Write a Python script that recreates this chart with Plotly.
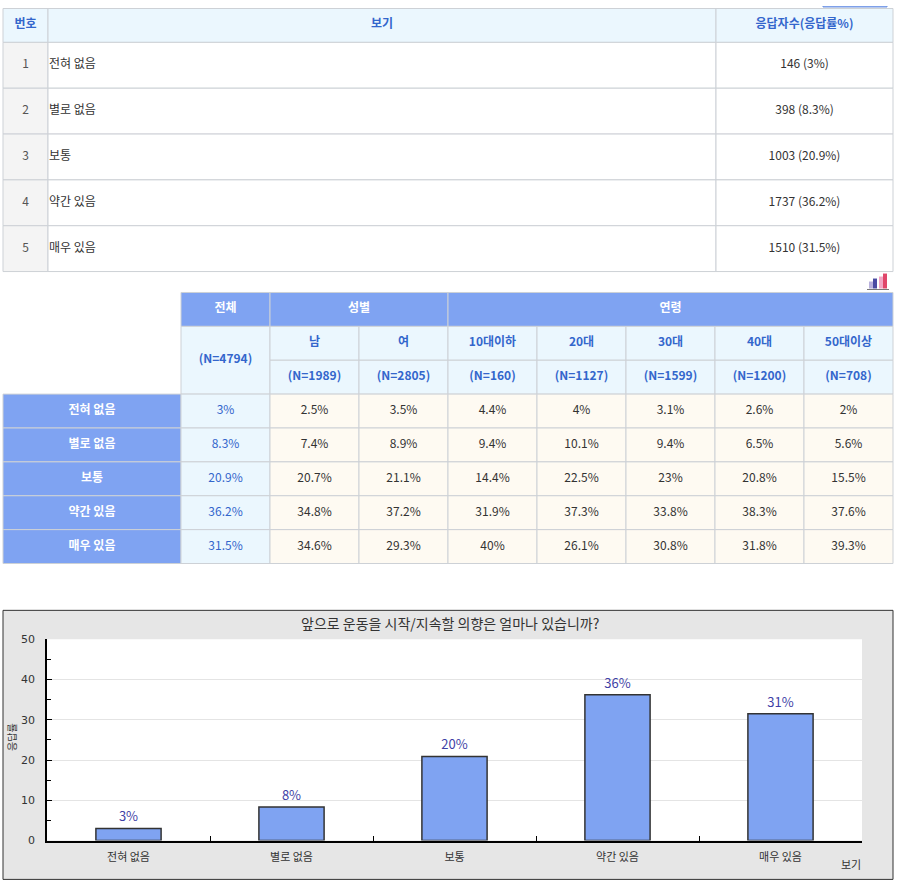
import plotly.graph_objects as go

# answer options and overall result
options = ["전혀 없음", "별로 없음", "보통", "약간 있음", "매우 있음"]
counts = [146, 398, 1003, 1737, 1510]
rates = [3, 8.3, 20.9, 36.2, 31.5]

# cross table
groups = ["전체", "성별", "연령"]
group_spans = [1, 2, 5]
subgroups = ["남", "여", "10대이하", "20대", "30대", "40대", "50대이상"]
n_sizes = [4794, 1989, 2805, 160, 1127, 1599, 1200, 708]

total = [3, 8.3, 20.9, 36.2, 31.5]
male = [2.5, 7.4, 20.7, 34.8, 34.6]
female = [3.5, 8.9, 21.1, 37.2, 29.3]
age10 = [4.4, 9.4, 14.4, 31.9, 40]
age20 = [4, 10.1, 22.5, 37.3, 26.1]
age30 = [3.1, 9.4, 23, 33.8, 30.8]
age40 = [2.6, 6.5, 20.8, 38.3, 31.8]
age50 = [2, 5.6, 15.5, 37.6, 39.3]
cross_cols = [total, male, female, age10, age20, age30, age40, age50]

chart_title = "앞으로 운동을 시작/지속할 의향은 얼마나 있습니까?"
y_title = "응답률"
x_title = "보기"

FONT = "Noto Sans CJK KR"
LINE = "#CDD1D6"
HEAD_BG = "#EBF7FE"
BLUE_BG = "#7FA3F2"
CREAM = "#FEFAF2"
GRAY = "#F4F4F4"
BLUE_TXT = "#3366CC"
DARK = "#333333"

W, H = 897, 887
# page y-range, tuned so the photographed page lines up with the original
Y_TOP = 2.5
Y_BOT = Y_TOP + H * H / W


def paper_y(v):
    return 1 - (v - Y_TOP) / (Y_BOT - Y_TOP)


shapes = []
tx, ty, tt, tc, tp = [], [], [], [], []


def cell(x0, x1, y0, y1, fill, line=LINE):
    shapes.append(dict(type="rect", xref="x", yref="y", x0=x0, x1=x1, y0=y0, y1=y1,
                       fillcolor=fill, line=dict(color=line, width=1), layer="below"))


def put(x, y, text, color=DARK, bold=False, pos="middle center"):
    tx.append(x)
    ty.append(y)
    tt.append(f"<b>{text}</b>" if bold else text)
    tc.append(color)
    tp.append(pos)


# ---- table 1 ----
t1_widths = [45, 668, 177]
t1_left, t1_top, t1_head_h, t1_row_h = 3, 5, 34, 46
e1 = [t1_left]
for w in t1_widths:
    e1.append(e1[-1] + w)

for i, h in enumerate(["번호", x_title, "응답자수(응답률%)"]):
    cell(e1[i], e1[i + 1], t1_top, t1_top + t1_head_h, HEAD_BG)
    put((e1[i] + e1[i + 1]) / 2, t1_top + t1_head_h / 2, h, BLUE_TXT, True)

for r, opt in enumerate(options):
    y0 = t1_top + t1_head_h + r * t1_row_h
    ym = y0 + t1_row_h / 2
    cell(e1[0], e1[1], y0, y0 + t1_row_h, GRAY)
    cell(e1[1], e1[2], y0, y0 + t1_row_h, "white")
    cell(e1[2], e1[3], y0, y0 + t1_row_h, "white")
    put((e1[0] + e1[1]) / 2, ym, str(r + 1), "#555555")
    put(e1[1] + 1, ym, opt, DARK, pos="middle right")
    put((e1[2] + e1[3]) / 2, ym, f"{counts[r]} ({rates[r]:g}%)")

# small chart icon above table 2
icon = [(869, 873, 279, "#B8B0DC"), (873, 877, 276, "#4A4AA2"),
        (879, 883, 274, "#F2A6C4"), (883, 887, 271, "#E0466A")]
for a, b, top, c in icon:
    shapes.append(dict(type="rect", xref="x", yref="y", x0=a, x1=b, y0=top, y1=286,
                       fillcolor=c, line=dict(width=0), layer="below"))
shapes.append(dict(type="line", xref="x", yref="y", x0=867, x1=889, y0=287, y1=287,
                   line=dict(color="#777777", width=1), layer="below"))

# top right button edge
shapes.append(dict(type="rect", xref="x", yref="y", x0=823, x1=887, y0=-8, y1=3.5,
                   fillcolor="#8EAEF2", line=dict(color="#6F93E0", width=1), layer="below"))

# ---- table 2 ----
t2_left, t2_top = 3, 290
rowhead_w, col_w, hh, rh = 178, 89, 34, 34
ce = [t2_left + rowhead_w + i * col_w for i in range(len(cross_cols) + 1)]

c = 0
for g, span in zip(groups, group_spans):
    cell(ce[c], ce[c + span], t2_top, t2_top + hh, BLUE_BG)
    put((ce[c] + ce[c + span]) / 2, t2_top + hh / 2, g, "white", True)
    c += span

cell(ce[0], ce[1], t2_top + hh, t2_top + 3 * hh, HEAD_BG)
put((ce[0] + ce[1]) / 2, t2_top + 2 * hh, f"(N={n_sizes[0]})", BLUE_TXT, True)
for i, sg in enumerate(subgroups):
    cell(ce[i + 1], ce[i + 2], t2_top + hh, t2_top + 2 * hh, HEAD_BG)
    cell(ce[i + 1], ce[i + 2], t2_top + 2 * hh, t2_top + 3 * hh, HEAD_BG)
    xm = (ce[i + 1] + ce[i + 2]) / 2
    put(xm, t2_top + 1.5 * hh, sg, BLUE_TXT, True)
    put(xm, t2_top + 2.5 * hh, f"(N={n_sizes[i + 1]})", BLUE_TXT, True)

body_top = t2_top + 3 * hh
for r, opt in enumerate(options):
    y0 = body_top + r * rh
    ym = y0 + rh / 2
    cell(t2_left, ce[0], y0, y0 + rh, BLUE_BG)
    put((t2_left + ce[0]) / 2, ym, opt, "white", True)
    for j, col in enumerate(cross_cols):
        cell(ce[j], ce[j + 1], y0, y0 + rh, HEAD_BG if j == 0 else CREAM)
        put((ce[j] + ce[j + 1]) / 2, ym, f"{col[r]:g}%", BLUE_TXT if j == 0 else DARK)

# ---- chart frame ----
shapes.append(dict(type="rect", xref="x", yref="y", x0=3, x1=893, y0=609, y1=min(883, Y_BOT - 0.6),
                   fillcolor="#E6E6E6", line=dict(color="#333333", width=1), layer="below"))
shapes.append(dict(type="rect", xref="x2 domain", yref="y2 domain", x0=0, x1=1, y0=0, y1=1,
                   fillcolor="white", line=dict(width=0), layer="below"))

bar_labels = [f"{int(v)}%" for v in rates]

fig = go.Figure()
fig.add_trace(go.Scatter(x=tx, y=ty, text=tt, mode="text", textposition=tp,
                         textfont=dict(family=FONT, size=12, color=tc),
                         hoverinfo="skip", showlegend=False, cliponaxis=False))
fig.add_trace(go.Bar(x=options, y=rates, xaxis="x2", yaxis="y2", width=0.4,
                     marker=dict(color="#7FA3F2", line=dict(color="#333333", width=1.5)),
                     text=bar_labels, textposition="outside", cliponaxis=False,
                     textfont=dict(family=FONT, size=13, color="#3F3FA6"),
                     hoverinfo="skip", showlegend=False))

fig.update_layout(
    width=W, height=H,
    margin=dict(l=0, r=0, t=0, b=0),
    paper_bgcolor="white", plot_bgcolor="white",
    showlegend=False,
    shapes=shapes,
    xaxis=dict(range=[0, W], domain=[0, 1], visible=False, fixedrange=True, anchor="y"),
    yaxis=dict(range=[Y_BOT, Y_TOP], domain=[0, 1], visible=False, fixedrange=True, anchor="x"),
    xaxis2=dict(domain=[47 / W, 862 / W], anchor="y2", type="category",
                showline=True, linecolor="black", linewidth=1.5, showgrid=False,
                ticks="inside", tickson="boundaries", ticklen=5, tickcolor="black",
                ticklabelstandoff=6,
                tickfont=dict(family=FONT, size=11, color=DARK), fixedrange=True),
    yaxis2=dict(domain=[paper_y(840), paper_y(638)], anchor="x2", range=[0, 50], dtick=10,
                showline=True, linecolor="black", linewidth=1.5, zeroline=False,
                ticks="inside", ticklen=5, tickcolor="black", gridcolor="#E4E4E4",
                ticklabelstandoff=8,
                minor=dict(ticks="inside", ticklen=4, dtick=5, tickcolor="black", showgrid=False),
                tickfont=dict(family="DejaVu Sans", size=11, color=DARK), fixedrange=True),
    annotations=[
        dict(xref="x", yref="y", x=450, y=622, text=chart_title, showarrow=False,
             font=dict(family=FONT, size=14, color=DARK)),
        dict(xref="x", yref="y", x=851, y=864, text=x_title, showarrow=False,
             font=dict(family=FONT, size=11, color=DARK)),
        dict(xref="x", yref="y", x=12, y=736, text=y_title, textangle=-90, showarrow=False,
             font=dict(family=FONT, size=10, color=DARK)),
    ],
)

fig.write_html("out.html", config={"displayModeBar": False},
               post_script="document.documentElement.style.margin='0';"
                           "document.body.style.margin='0';"
                           "document.documentElement.style.overflow='hidden';")
